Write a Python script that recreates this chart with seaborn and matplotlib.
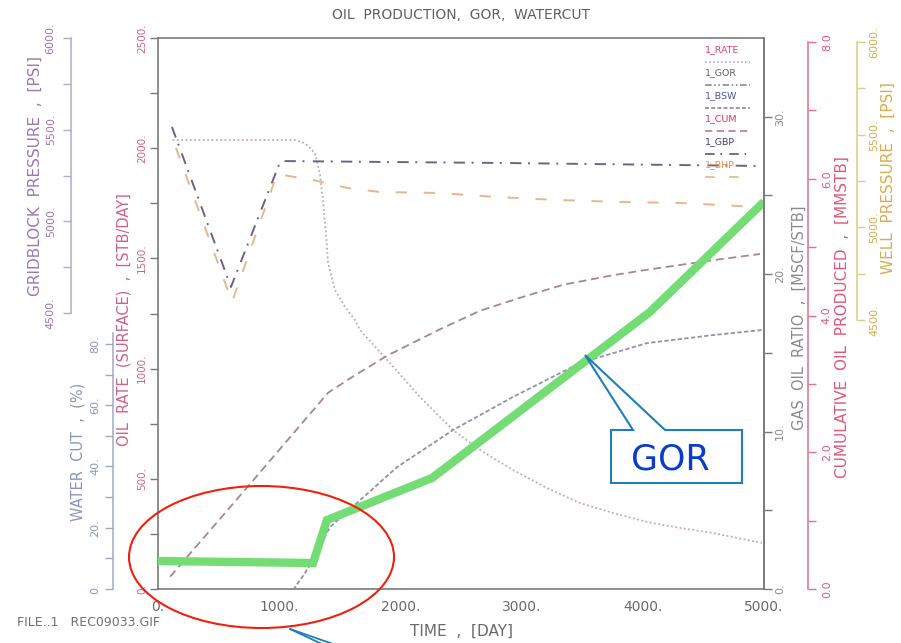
import matplotlib
matplotlib.use("Agg")
import matplotlib.pyplot as plt
import seaborn as sns
from matplotlib.lines import Line2D
from matplotlib.patches import Ellipse, Polygon, Rectangle

# ---------------- data ----------------
rate_days = [120, 600, 1130, 1213, 1295, 1337, 1361, 1386, 1403, 1460, 1543, 1625, 1667,
             1914, 2162, 2434, 2657, 2929, 3210, 3482, 3754, 4035, 4307, 4579, 4983]
rate_vals = [2037, 2037, 2037, 2023, 1978, 1880, 1765, 1615, 1479, 1357, 1280, 1220, 1175,
             1025, 871, 721, 631, 540, 458, 390, 345, 304, 277, 254, 209]

cum_days = [100, 776, 1403, 1601, 1898, 2327, 2657, 2987, 3342, 3754, 4035, 4579, 4967]
cum_vals = [0.18, 1.57, 2.87, 3.10, 3.42, 3.80, 4.07, 4.26, 4.45, 4.59, 4.67, 4.81, 4.90]

bsw_days = [120, 1120, 1213, 1279, 1353, 1419, 1642, 1972, 2434, 2929, 3482, 4035, 4579, 4992]
bsw_vals = [0, 0, 5.2, 9.5, 15.5, 20.2, 28.1, 39.8, 51.9, 62.7, 73.8, 80.3, 82.9, 84.6]

gbp_days = [115, 602, 1010, 2900, 4980]
gbp_vals = [5515, 4642, 5329, 5318, 5302]

bhp_days = [148, 611, 982, 1279, 1559, 1832, 2302, 2797, 3292, 3837, 4307, 4942]
bhp_vals = [5430, 4598, 5288, 5256, 5213, 5191, 5186, 5164, 5148, 5137, 5132, 5110]

gor_days = [0, 1279, 1394, 2261, 4059, 5000]
gor_vals = [1.78, 1.65, 4.38, 7.05, 17.6, 24.6]

x_ticks = [0, 1000, 2000, 3000, 4000, 5000]
x_labels = ["0.", "1000.", "2000.", "3000.", "4000.", "5000."]
rate_ticks = [0, 500, 1000, 1500, 2000, 2500]
rate_labels = ["0.", "500.", "1000.", "1500.", "2000.", "2500."]
wc_ticks = [0, 20, 40, 60, 80]
wc_labels = ["0.", "20.", "40.", "60.", "80."]
gor_ticks = [0, 10, 20, 30]
gor_labels = ["0.", "10.", "20.", "30."]
cum_ticks = [0, 2, 4, 6, 8]
cum_labels = ["0.0", "2.0", "4.0", "6.0", "8.0"]
p_ticks = [4500, 5000, 5500, 6000]
p_labels = ["4500.", "5000.", "5500.", "6000."]

legend_names = ["1_RATE", "1_GOR", "1_BSW", "1_CUM", "1_GBP", "1_BHP"]

# ---------------- layout helpers ----------------
W, H = 901, 643
L, R, T, B = 158, 764, 38, 589


def fx(px):
    return px / W


def fy(py):
    return 1 - py / H


def axx(px):
    return (px - L) / (R - L)


def axy(py):
    return (B - py) / (B - T)


sns.set_style("white")
plt.rcParams['font.family'] = ['DejaVu Sans']

fig = plt.figure(figsize=(W / 100, H / 100), dpi=100)
ax = fig.add_axes([fx(L), fy(B), (R - L) / W, (B - T) / H])

FRAME = '#7a7a7a'
C_RATE_LBL = '#d0608a'
C_WC = '#8c94c0'
C_GBP_LBL = '#9a78b4'
C_GOR = '#8a8a8a'
C_CUM = '#e0587a'
C_WP = '#d8ac50'

# ---------------- main axes : oil rate ----------------
sns.lineplot(x=rate_days, y=rate_vals, ax=ax, color='#c2a8b6', lw=1.3,
             linestyle=(0, (1, 1.4)), estimator=None, sort=False)
for s in ax.spines.values():
    s.set_color(FRAME)
    s.set_linewidth(1.2)
ax.set_yticks(rate_ticks, rate_labels)
ax.set_yticks(list(range(250, 2500, 500)), minor=True)
ax.set_xticks(x_ticks, x_labels)
ax.set_xticks(list(range(500, 5000, 1000)), minor=True)
ax.tick_params(axis='y', which='both', direction='out', length=6, width=1, color=FRAME,
               labelcolor=C_RATE_LBL, labelsize=7.5, labelrotation=90, pad=2)
ax.tick_params(axis='x', which='both', direction='out', length=6, width=1, color=FRAME,
               labelcolor='#6a6a6a', labelsize=10, pad=2)
for lb in ax.get_yticklabels():
    lb.set_verticalalignment('center')
ax.set_xlabel("TIME  ,  [DAY]", fontsize=11, color='#6a6a6a')
ax.xaxis.label.set_verticalalignment('center')
ax.xaxis.set_label_coords(axx(461), axy(631))
ax.set_ylabel("OIL  RATE  (SURFACE)  ,  [STB/DAY]", fontsize=10.5, color=C_RATE_LBL)
ax.yaxis.label.set_verticalalignment('center')
ax.yaxis.set_label_coords(axx(124), axy(320))


def make_twin(side, pos_px, ylim, bounds, spine_color):
    a = ax.twinx()
    for s in a.spines.values():
        s.set_visible(False)
    a.yaxis.set_ticks_position(side)
    a.yaxis.set_label_position(side)
    sp = a.spines[side]
    sp.set_visible(True)
    if pos_px is not None:
        sp.set_position(('axes', axx(pos_px)))
    sp.set_color(spine_color)
    sp.set_linewidth(1.1)
    a.set_ylim(*ylim)
    if bounds is not None:
        sp.set_bounds(*bounds)
    return a


def style_ticks(a, ticks, labels, minor, color_tick, color_lbl, direction, pad, size=8):
    a.set_yticks(ticks, labels)
    a.set_yticks(minor, minor=True)
    a.tick_params(axis='y', which='both', direction=direction, length=6, width=1,
                  color=color_tick, labelcolor=color_lbl, labelsize=size,
                  labelrotation=90, pad=pad)
    for lb in a.get_yticklabels():
        lb.set_verticalalignment('center')


def set_label(a, text, color, cx, cy, size=10.5):
    a.set_ylabel(text, fontsize=size, color=color)
    a.yaxis.label.set_verticalalignment('center')
    a.yaxis.set_label_coords(axx(cx), axy(cy))


# gridblock pressure (far left)
ax_gbp = make_twin('left', 71, (2995, 6000), (4500, 6000), '#b8a8c8')
sns.lineplot(x=gbp_days, y=gbp_vals, ax=ax_gbp, color='#6b6488', lw=1.4,
             linestyle=(0, (5.8, 3.4, 1.0, 4.3)), estimator=None, sort=False)
ax_gbp.set_ylim(2995, 6000)
style_ticks(ax_gbp, p_ticks, p_labels, [4750, 5250, 5750], '#b8a8c8', C_GBP_LBL, 'out', 5)
set_label(ax_gbp, "GRIDBLOCK  PRESSURE  ,  [PSI]", C_GBP_LBL, 35, 176, 11)

# water cut (left)
ax_wc = make_twin('left', 113, (0, 179.9), (0, 83.6), '#a0a8c8')
sns.lineplot(x=bsw_days, y=bsw_vals, ax=ax_wc, color='#968fab', lw=1.3,
             linestyle=(0, (2.4, 1.3)), estimator=None, sort=False)
ax_wc.set_ylim(0, 179.9)
style_ticks(ax_wc, wc_ticks, wc_labels, [10, 30, 50, 70], '#a0a8c8', C_WC, 'out', 3)
set_label(ax_wc, "WATER  CUT  ,  (%)", C_WC, 78, 452, 10.5)

# cumulative oil (right)
ax_cum = make_twin('right', 808, (0, 8.06), (0, 8.0), '#e07090')
sns.lineplot(x=cum_days, y=cum_vals, ax=ax_cum, color='#a88494', lw=1.3,
             linestyle=(0, (4.4, 2.6)), estimator=None, sort=False)
ax_cum.set_ylim(0, 8.06)
style_ticks(ax_cum, cum_ticks, cum_labels, [1, 3, 5, 7], '#e07090', C_CUM, 'out', 4)
set_label(ax_cum, "CUMULATIVE  OIL  PRODUCED  ,  [MMSTB]", C_CUM, 842, 317, 11)

# well pressure (far right)
ax_wp = make_twin('right', 857, (3049, 6022), (4500, 6000), '#e0c888')
sns.lineplot(x=bhp_days, y=bhp_vals, ax=ax_wp, color='#e6b68c', lw=1.4,
             linestyle=(0, (5.8, 8.6)), estimator=None, sort=False)
ax_wp.set_ylim(3049, 6022)
style_ticks(ax_wp, p_ticks, p_labels, [4750, 5250, 5750], '#e0c888', C_WP, 'out', 3)
set_label(ax_wp, "WELL  PRESSURE  ,  [PSI]", C_WP, 888, 178, 11)

# gas oil ratio (right spine of the frame) + highlighted GOR line
ax_gor = make_twin('right', None, (0, 35), None, FRAME)
ax_gor.spines['right'].set_linewidth(1.2)
sns.lineplot(x=gor_days, y=gor_vals, ax=ax_gor, color='#74dc74', lw=6,
             estimator=None, sort=False, solid_joinstyle='miter', solid_capstyle='butt')
ax_gor.set_ylim(0, 35)
style_ticks(ax_gor, gor_ticks, gor_labels, [5, 15, 25], FRAME, C_GOR, 'out', 2)
set_label(ax_gor, "GAS  OIL  RATIO  ,  [MSCF/STB]", C_GOR, 799, 318, 10.5)
ax_gor.set_zorder(5)

ax.set_xlim(0, 5000)
ax.set_ylim(0, 2500)

# ---------------- title & footer ----------------
fig.text(fx(461), fy(15), "OIL  PRODUCTION,  GOR,  WATERCUT", ha='center', va='center',
         fontsize=10, color='#606060')
fig.text(fx(17), fy(622), "FILE..1   REC09033.GIF", ha='left', va='center',
         fontsize=9, color='#707070')

# ---------------- legend (text above line sample) ----------------
leg_text_colors = ['#e04070', '#606060', '#5050a8', '#e03060', '#403c80', '#e89050']
leg_line_colors = ['#c2a8b6', '#8a8a8a', '#8a84b0', '#c07890', '#5a5480', '#e6b68c']
leg_styles = [(0, (1, 1.4)), (0, (4, 1.5, 1, 1.5, 1, 1.5)), (0, (2.4, 1.3)),
              (0, (4.4, 2.6)), (0, (5.8, 3.4, 1.0, 4.3)), (0, (5.8, 8.6))]
for i, name in enumerate(legend_names):
    ty = 50 + i * 23
    fig.text(fx(705), fy(ty), name, ha='left', va='center', fontsize=6.8,
             color=leg_text_colors[i])
    fig.add_artist(Line2D([fx(705), fx(750)], [fy(ty + 12), fy(ty + 12)],
                          transform=fig.transFigure, color=leg_line_colors[i],
                          lw=1.2, linestyle=leg_styles[i]))

# ---------------- annotations ----------------
fig.add_artist(Ellipse((fx(261.5), fy(557)), width=265 / W, height=142 / H,
                       transform=fig.transFigure, fill=False, edgecolor='#f0200c',
                       lw=1.5, zorder=20))
for x_end in (324, 336):
    fig.add_artist(Line2D([fx(290), fx(x_end)], [fy(629), fy(645)],
                          transform=fig.transFigure, color='#1f80b8', lw=1.3, zorder=20))

BLUE_EDGE = '#1f80b8'
fig.add_artist(Rectangle((fx(611), fy(483)), 131 / W, 53 / H, transform=fig.transFigure,
                         facecolor='white', edgecolor='none', zorder=19))
callout = [(611, 430), (633, 430), (585, 355), (665, 430), (742, 430), (742, 483), (611, 483)]
fig.add_artist(Polygon([(fx(px), fy(py)) for px, py in callout], closed=True,
                       transform=fig.transFigure, fill=False, edgecolor=BLUE_EDGE,
                       lw=1.5, zorder=20))
fig.text(fx(670), fy(459), "GOR", ha='center', va='center', fontsize=25,
         color='#0a3ccc', zorder=21)

fig.savefig("out.png", dpi=100)
